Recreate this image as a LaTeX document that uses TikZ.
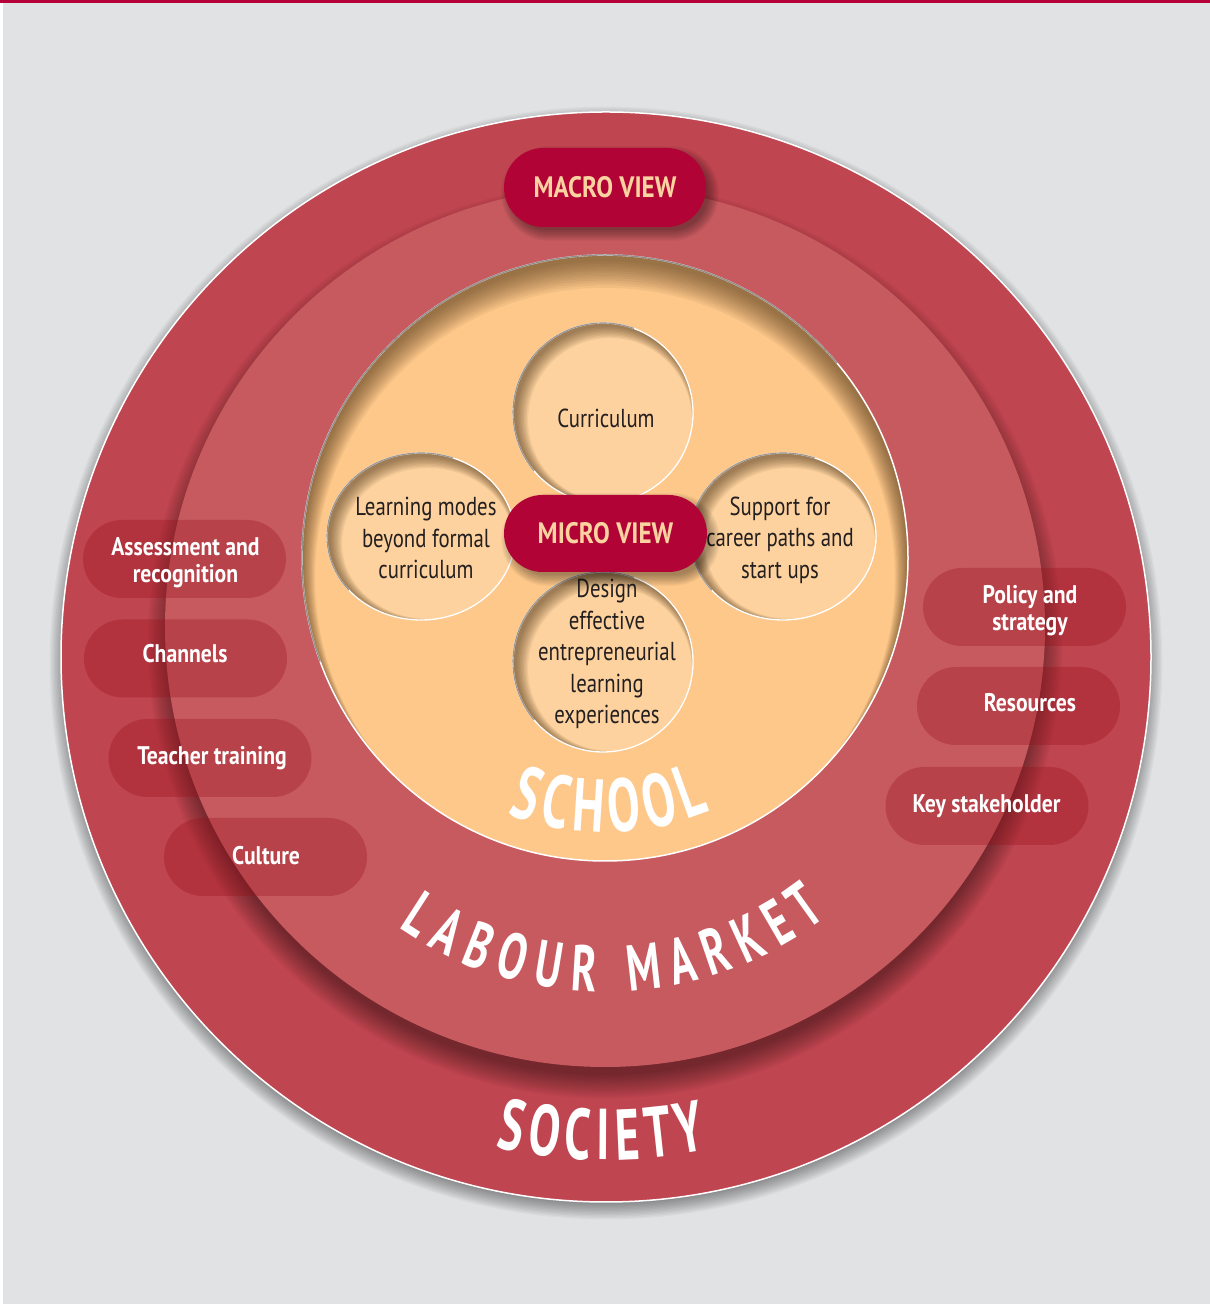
\documentclass[tikz,border=0pt]{standalone}
\usepackage{fontspec}
\setmainfont{PT Sans}[FakeStretch=0.8, BoldFeatures={FakeStretch=0.85}]
\newfontfamily\ringfont{PT Sans}[FakeStretch=0.65]
\usetikzlibrary{shapes.misc,decorations.text,calc}

\definecolor{bggray}{HTML}{E1E2E4}
\definecolor{topred}{HTML}{B5003A}
\definecolor{society}{HTML}{BF4550}
\definecolor{labour}{HTML}{C65A5F}
\definecolor{school}{HTML}{FEC88A}
\definecolor{smallc}{HTML}{FDD29E}
\definecolor{crimson}{HTML}{B20336}
\definecolor{peach}{HTML}{FAD3A0}
\definecolor{pilldark}{HTML}{970C17}
\definecolor{inktext}{HTML}{231F20}
\definecolor{brownsh}{HTML}{3A2208}
\definecolor{rimgray}{HTML}{6E6A66}

% soft drop shadow for a pill: x y w h dx dy
\newcommand\pillshade[6]{%
  \foreach \i in {0,...,9}{%
    \pgfmathsetmacro\hw{#3/2-3+\i*1.2}%
    \pgfmathsetmacro\hh{#4/2-3+\i*1.2}%
    \pgfmathsetmacro\rr{\hh-0.4}%
    \fill[black,opacity=0.04,rounded corners=\rr pt]
      ({#1+#5-\hw},{#2+#6-\hh}) rectangle ({#1+#5+\hw},{#2+#6+\hh});
  }}

% inset (inner) shadow of an ellipse, light from top-left: x y rx ry
\newcommand\insetshade[4]{%
  \begin{scope}
    \clip (#1,#2) ellipse [x radius=#3, y radius=#4];
    \foreach \i in {1,...,9}{%
      \fill[brownsh,opacity=0.065,even odd rule]
        ({#1-#3-30},{#2-#4-30}) rectangle ({#1+#3+30},{#2+#4+30})
        ({#1+2.5+0.5*\i},{#2-2.5-0.5*\i}) ellipse [x radius={#3-0.9*\i}, y radius={#4-0.9*\i}];
    }
  \end{scope}
  \draw[white,line width=1.3pt] (#1,#2) ellipse [x radius=#3, y radius=#4];
  \draw[rimgray,opacity=0.7,line width=1.1pt] (#1,#2) ++(70:{#3} and {#4})
    arc[start angle=70, end angle=220, x radius=#3, y radius=#4];
}

\tikzset{
  sidepill/.style={rounded rectangle, fill=pilldark, fill opacity=0.3, draw=none,
    minimum width=203pt, minimum height=78pt, inner sep=0pt},
  pilltext/.style={text=white, font=\bfseries\fontsize{25.5}{27}\selectfont,
    align=center, inner sep=0pt},
  bigpill/.style={rounded rectangle, fill=crimson, draw=none, text=peach,
    font=\bfseries\fontsize{29.5}{30}\selectfont, minimum width=203pt,
    minimum height=78pt, inner sep=0pt},
  circtext/.style={text=inktext, font=\fontsize{26}{31.5}\selectfont,
    align=center, inner sep=0pt},
  ringtext/.style={decorate, decoration={text along path, text align={fit to path},
    text color=white}}
}

\begin{document}
\begin{tikzpicture}[x=1pt,y=1pt]
\useasboundingbox (0,0) rectangle (1210,1304);
\fill[bggray] (0,0) rectangle (1210,1304);
\fill[white] (0,0) rectangle (2.5,1304);
\fill[topred] (0,1301) rectangle (1210,1304);

% ---- society ring
\foreach \i in {0,...,11} \fill[black,opacity=0.035] (606,641) circle[radius={541+\i*1.4}];
\fill[society] (606,647) circle[radius=545];
\draw[white,line width=1.5pt] (606,647) circle[radius=545];

% ---- labour market ring with shadow
\begin{scope}
  \clip (606,647) circle[radius=544];
  \foreach \i in {0,...,13} \fill[black,opacity=0.03] (605,663) circle[radius={434+\i*1.8}];
\end{scope}
\fill[labour] (605,677) circle[radius=440];

% ---- side pills
\node[sidepill] (pAR)  at (184.5,745) {};
\node[sidepill] (pCH)  at (185.5,645.5) {};
\node[sidepill] (pTT)  at (210,546) {};
\node[sidepill] (pCU)  at (265.5,447) {};
\node[sidepill] (pPS)  at (1024.5,697) {};
\node[sidepill] (pRE)  at (1018.5,598) {};
\node[sidepill] (pKS)  at (987,498) {};

\node[pilltext] (tAR) at (185.5,741) {Assessment and\\recognition};
\node[pilltext] (tCH) at (185,650) {Channels};
\node[pilltext] (tTT) at (212,545.5) {Teacher training};
\node[pilltext] (tCU) at (266,448) {Culture};
\node[pilltext] (tPS) at (1030,693.5) {Policy and\\strategy};
\node[pilltext] (tRE) at (1030,601) {Resources};
\node[pilltext] (tKS) at (986.5,497.5) {Key stakeholder};

% ---- school circle
\fill[school] (605,746) circle[radius=303];
\begin{scope}
  \clip (605,746) circle[radius=303];
  \foreach \i in {1,...,12} \fill[brownsh,opacity=0.055,even odd rule]
    (290,430) rectangle (920,1060) (605,{742-1.3*\i}) circle[radius={303-1.1*\i}];
\end{scope}
\draw[white,line width=1.5pt] (605,746) circle[radius=303];
\draw[rimgray,opacity=0.75,line width=1.3pt] (605,746) ++(40:303) arc[start angle=40, end angle=200, radius=303];

% ---- small circles
\fill[smallc] (603,891) circle[radius=90];
\insetshade{603}{891}{90}{90}
\fill[smallc] (421,767.5) ellipse [x radius=94, y radius=83.5];
\insetshade{421}{767.5}{94}{83.5}
\fill[smallc] (783,767.5) ellipse [x radius=93, y radius=83.5];
\insetshade{783}{767.5}{93}{83.5}
\fill[smallc] (603,642) circle[radius=90];
\insetshade{603}{642}{90}{90}

\node[circtext] (cCur) at (606,885.5) {Curriculum};
\node[circtext] (cLM)  at (426,766) {Learning modes\\beyond formal\\curriculum};
\node[circtext] (cSup) at (780,764) {Support for\\career paths and\\start ups};
\node[circtext] (cDes) at (607,650) {Design\\effective\\entrepreneurial\\learning\\experiences};

% ---- view pills
\pillshade{605.5}{770.5}{203}{77}{5}{-6}
\node[bigpill, minimum height=77pt] (micro) at (605.5,770.5) {MICRO VIEW};
\pillshade{605}{1116.5}{202}{79}{5}{-6}
\node[bigpill, minimum width=202pt, minimum height=79pt] (macro) at (605,1116.5) {MACRO VIEW};

% ---- curved labels
\path[ringtext, decoration={text={|\ringfont\bfseries\fontsize{75}{75}\selectfont|SCHOOL}}]
  (605,746) ++(249.2:274) arc[start angle=249.2, end angle=292.5, radius=274];
\path[ringtext, decoration={text={|\ringfont\bfseries\fontsize{65}{65}\selectfont|LABOUR MARKET}}]
  (605,677) ++(235.5:365) arc[start angle=235.5, end angle=307.5, radius=365];
\path[ringtext, decoration={text={|\ringfont\bfseries\fontsize{72}{72}\selectfont|SOCIETY}}]
  (606,647) ++(257.3:503) arc[start angle=257.3, end angle=281.6, radius=503];
\end{tikzpicture}
\end{document}
